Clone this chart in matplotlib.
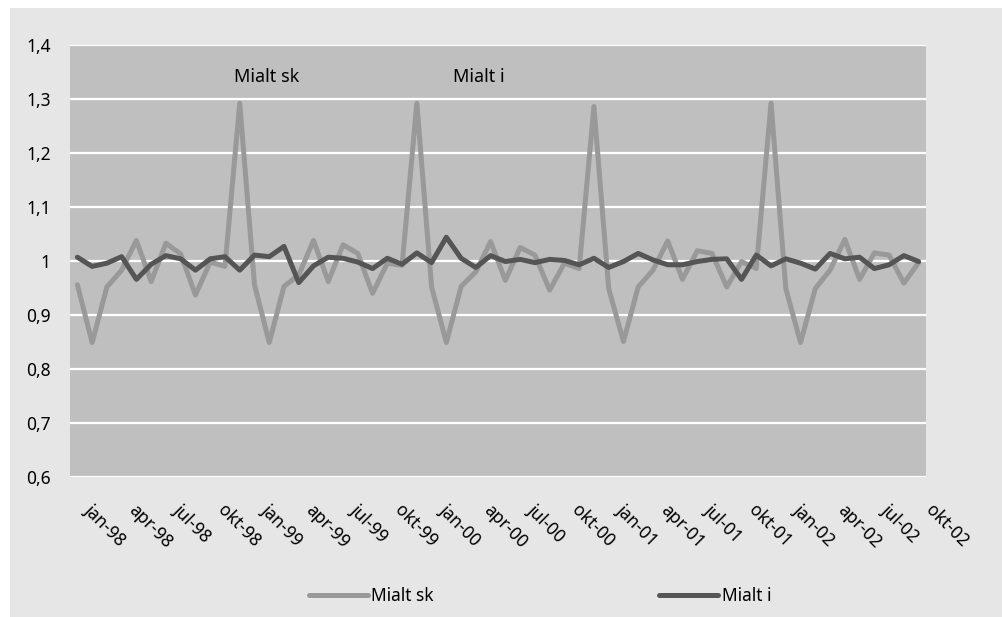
import matplotlib
matplotlib.use("Agg")
import matplotlib.pyplot as plt
import matplotlib.transforms as mtransforms
from matplotlib.patches import Rectangle

# Monthly index, jan-98 .. okt-02
mialt_sk = [
    0.956, 0.849, 0.952, 0.983, 1.038, 0.962, 1.033, 1.013, 0.937, 0.998, 0.990, 1.292,
    0.956, 0.849, 0.953, 0.974, 1.038, 0.962, 1.030, 1.014, 0.940, 0.996, 0.992, 1.292,
    0.952, 0.849, 0.953, 0.980, 1.036, 0.964, 1.025, 1.011, 0.946, 0.996, 0.986, 1.286,
    0.949, 0.851, 0.952, 0.983, 1.037, 0.966, 1.019, 1.014, 0.952, 0.999, 0.986, 1.292,
    0.949, 0.849, 0.949, 0.983, 1.040, 0.966, 1.015, 1.011, 0.959, 0.997,
]
mialt_i = [
    1.007, 0.990, 0.996, 1.008, 0.966, 0.994, 1.010, 1.004, 0.983, 1.004, 1.008, 0.983,
    1.011, 1.008, 1.027, 0.960, 0.991, 1.007, 1.005, 0.998, 0.986, 1.005, 0.994, 1.015,
    0.997, 1.044, 1.005, 0.988, 1.010, 0.999, 1.003, 0.997, 1.003, 1.001, 0.993, 1.005,
    0.988, 0.999, 1.014, 1.002, 0.993, 0.993, 0.999, 1.003, 1.004, 0.966, 1.011, 0.991,
    1.004, 0.996, 0.985, 1.014, 1.004, 1.007, 0.986, 0.993, 1.010, 0.999,
]
tick_labels = [
    "jan-98", "apr-98", "jul-98", "okt-98",
    "jan-99", "apr-99", "jul-99", "okt-99",
    "jan-00", "apr-00", "jul-00", "okt-00",
    "jan-01", "apr-01", "jul-01", "okt-01",
    "jan-02", "apr-02", "jul-02", "okt-02",
]
y_ticks = [0.6, 0.7, 0.8, 0.9, 1.0, 1.1, 1.2, 1.3, 1.4]
y_tick_labels = ["0,6", "0,7", "0,8", "0,9", "1", "1,1", "1,2", "1,3", "1,4"]

plt.rcParams["font.family"] = ["Noto Sans", "DejaVu Sans"]

W, H = 1002, 617
fig = plt.figure(figsize=(W / 100, H / 100), dpi=100, facecolor="white")

# chart area background
fig.add_artist(Rectangle((10 / W, 0), 1 - 10 / W, 1 - 8 / H,
                         transform=fig.transFigure, facecolor="#e6e6e6",
                         edgecolor="none", zorder=-5))

ax = fig.add_axes([70 / W, 1 - 477 / H, (926 - 70) / W, (477 - 45) / H])
ax.set_facecolor("#bfbfbf")

months = list(range(len(mialt_sk)))
ax.plot(months, mialt_sk, color="#999999", lw=3.6, solid_joinstyle="round",
        solid_capstyle="round", label="Mialt sk", zorder=3)
ax.plot(months, mialt_i, color="#555555", lw=3.6, solid_joinstyle="round",
        solid_capstyle="round", label="Mialt i", zorder=4)

ax.set_xlim(-0.5, len(months) - 0.5)
ax.set_ylim(0.6, 1.4)
ax.set_yticks(y_ticks)
ax.set_yticklabels(y_tick_labels, fontsize=12.5)
ax.yaxis.grid(True, color="white", lw=1.6, zorder=1)
ax.set_axisbelow(True)
for s in ax.spines.values():
    s.set_visible(False)
ax.tick_params(axis="both", length=0)
ax.tick_params(axis="y", pad=14)

ax.set_xticks(months[::3])
ax.set_xticklabels(tick_labels, fontsize=12.5, rotation=-45,
                   ha="left", va="top", rotation_mode="anchor")
offset = mtransforms.ScaledTranslation(12 / 72, -14 / 72, fig.dpi_scale_trans)
for lbl in ax.get_xticklabels():
    lbl.set_transform(lbl.get_transform() + offset)

ax.text(12.85, 1.341, "Mialt sk", fontsize=13, ha="center", va="center")
ax.text(27.2, 1.341, "Mialt i", fontsize=13, ha="center", va="center")

fig.legend(loc="center", bbox_to_anchor=(540 / W, 1 - 596 / H), ncol=2,
           frameon=False, fontsize=12.5, handlelength=3.4, handletextpad=0.2,
           columnspacing=13.0)

fig.savefig("out.png", dpi=100, facecolor=fig.get_facecolor())
